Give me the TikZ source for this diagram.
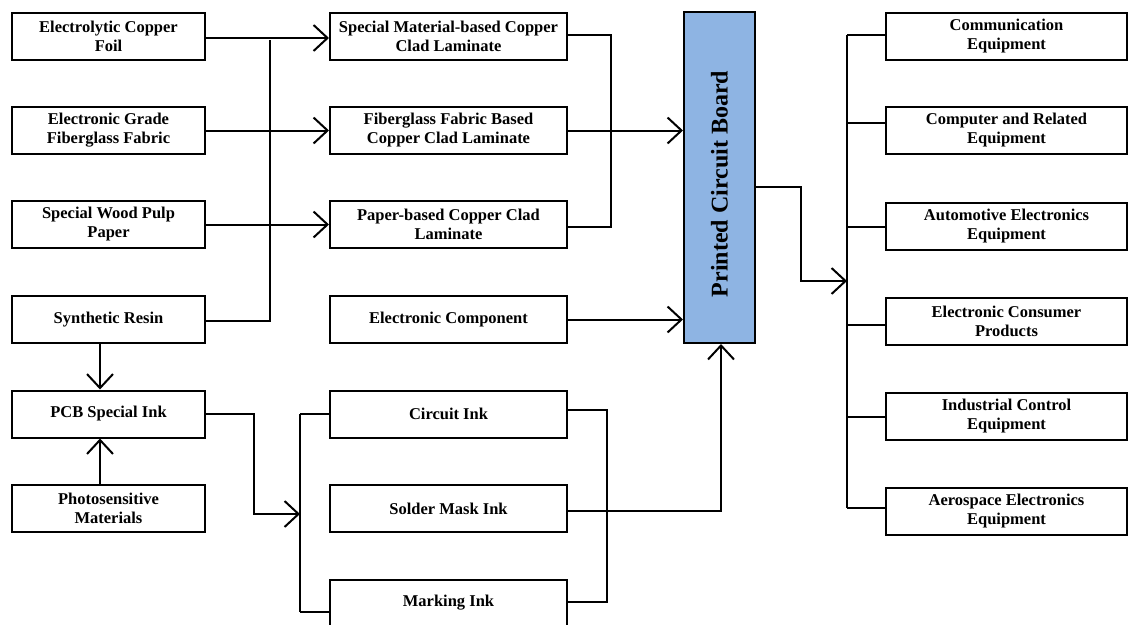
\documentclass[tikz,border=0pt]{standalone}
\usepackage{fontspec}
\setmainfont{Liberation Serif}
\usetikzlibrary{arrows.meta}
\begin{document}
\begin{tikzpicture}[x=1pt,y=-1pt,
  box/.style={draw=black,line width=2pt,rectangle,align=center,inner sep=1pt,
    font=\fontsize{16.5}{19}\selectfont\bfseries,minimum height=47pt},
  lbox/.style={box,minimum width=193pt},
  mbox/.style={box,minimum width=237pt},
  rbox/.style={box,minimum width=241pt},
  conn/.style={draw=black,line width=2pt},
  arr/.style={conn,-{Straight Barb[length=14pt,width=26pt,line width=2pt]}}]
\useasboundingbox (0,0) rectangle (1130,624);
% left column
\node[lbox] (foil) at (108.5,36) {Electrolytic Copper\\Foil};
\node[lbox] (fab) at (108.5,130.5) {Electronic Grade\\Fiberglass Fabric};
\node[lbox] (pulp) at (108.5,224.5) {Special Wood Pulp\\Paper};
\node[lbox] (resin) at (108.5,319.5) {Synthetic Resin};
\node[lbox] (pink) at (108.5,414) {PCB Special Ink};
\node[lbox] (photo) at (108.5,508) {Photosensitive\\Materials};
% middle column
\node[mbox] (smcc) at (448.5,36) {Special Material-based Copper\\Clad Laminate};
\node[mbox] (fgcc) at (448.5,130.5) {Fiberglass Fabric Based\\Copper Clad Laminate};
\node[mbox] (pbcc) at (448.5,224.5) {Paper-based Copper Clad\\Laminate};
\node[mbox] (ecomp) at (448.5,319.5) {Electronic Component};
\node[mbox] (cink) at (448.5,414) {Circuit Ink};
\node[mbox] (sink) at (448.5,508.5) {Solder Mask Ink};
\node[mbox] (mink) at (448.5,603) {Marking Ink};
% PCB
\node[draw=black,line width=2pt,fill={rgb,255:red,142;green,180;blue,227},
  minimum width=71pt,minimum height=331pt,inner sep=0pt] (pcb) at (719.5,177.5) {};
\node[rotate=90,font=\fontsize{24}{28}\selectfont\bfseries] (pcbt) at (719.5,184) {Printed Circuit Board};
% right column
\node[rbox] (comm) at (1006.5,36) {Communication\\Equipment};
\node[rbox] (comp) at (1006.5,130) {Computer and Related\\Equipment};
\node[rbox] (auto) at (1006.5,226) {Automotive Electronics\\Equipment};
\node[rbox] (cons) at (1006.5,321) {Electronic Consumer\\Products};
\node[rbox] (ind) at (1006.5,416) {Industrial Control\\Equipment};
\node[rbox] (aero) at (1006.5,511) {Aerospace Electronics\\Equipment};
% coordinates
\coordinate (fa) at (0,38);
\coordinate (lbusT) at (270,40);
\coordinate (lbusB) at (270,321);
\coordinate (mbusT) at (611,35);
\coordinate (mbusB) at (611,227);
\coordinate (pj1) at (801,187);
\coordinate (pj2) at (801,281);
\coordinate (rbusT) at (847,35);
\coordinate (rbusB) at (847,508);
\coordinate (rin) at (847,281);
\coordinate (ij1) at (254,414);
\coordinate (ij2) at (254,514);
\coordinate (ibus) at (300,514);
\coordinate (ibusT) at (300,414);
\coordinate (ibusB) at (300,612);
\coordinate (obusT) at (607,410);
\coordinate (obusB) at (607,602);
\coordinate (sj) at (721,511);
\coordinate (vx) at (100,0);
% left -> middle
\draw[arr] (foil.east |- fa) -- (smcc.west |- fa);
\draw[arr] (fab.east) -- (fgcc.west);
\draw[arr] (pulp.east) -- (pbcc.west);
\draw[conn] (resin.east |- lbusB) -- (lbusB) -- (lbusT);
% middle -> PCB
\draw[conn] (smcc.east |- mbusT) -- (mbusT) -- (mbusB) -- (pbcc.east |- mbusB);
\draw[arr] (fgcc.east) -- (fgcc.east -| pcb.west);
\draw[arr] (ecomp.east) -- (ecomp.east -| pcb.west);
% resin/photo -> pcb ink
\draw[arr] (resin.south -| vx) -- (pink.north -| vx);
\draw[arr] (photo.north -| vx) -- (pink.south -| vx);
% pcb ink -> inks
\draw[arr] (pink.east) -- (ij1) -- (ij2) -- (ibus);
\draw[conn] (ibusT) -- (ibusB);
\draw[conn] (ibusT) -- (cink.west);
\draw[conn] (ibusB) -- (ibusB -| mink.west);
% inks -> pcb
\draw[conn] (cink.east |- obusT) -- (obusT) -- (obusB) -- (obusB -| mink.east);
\draw[arr] (sink.east |- sj) -- (sj) -- (sj |- pcb.south);
% pcb -> applications
\draw[arr] (pcb.east |- pj1) -- (pj1) -- (pj2) -- (rin);
\draw[conn] (rbusT) -- (rbusB);
\foreach \n/\y in {comm/35,comp/123,auto/227,cons/325,ind/417,aero/508}{
  \draw[conn] (847,\y) -- (\n.west |- 0,\y);
}
\end{tikzpicture}
\end{document}
